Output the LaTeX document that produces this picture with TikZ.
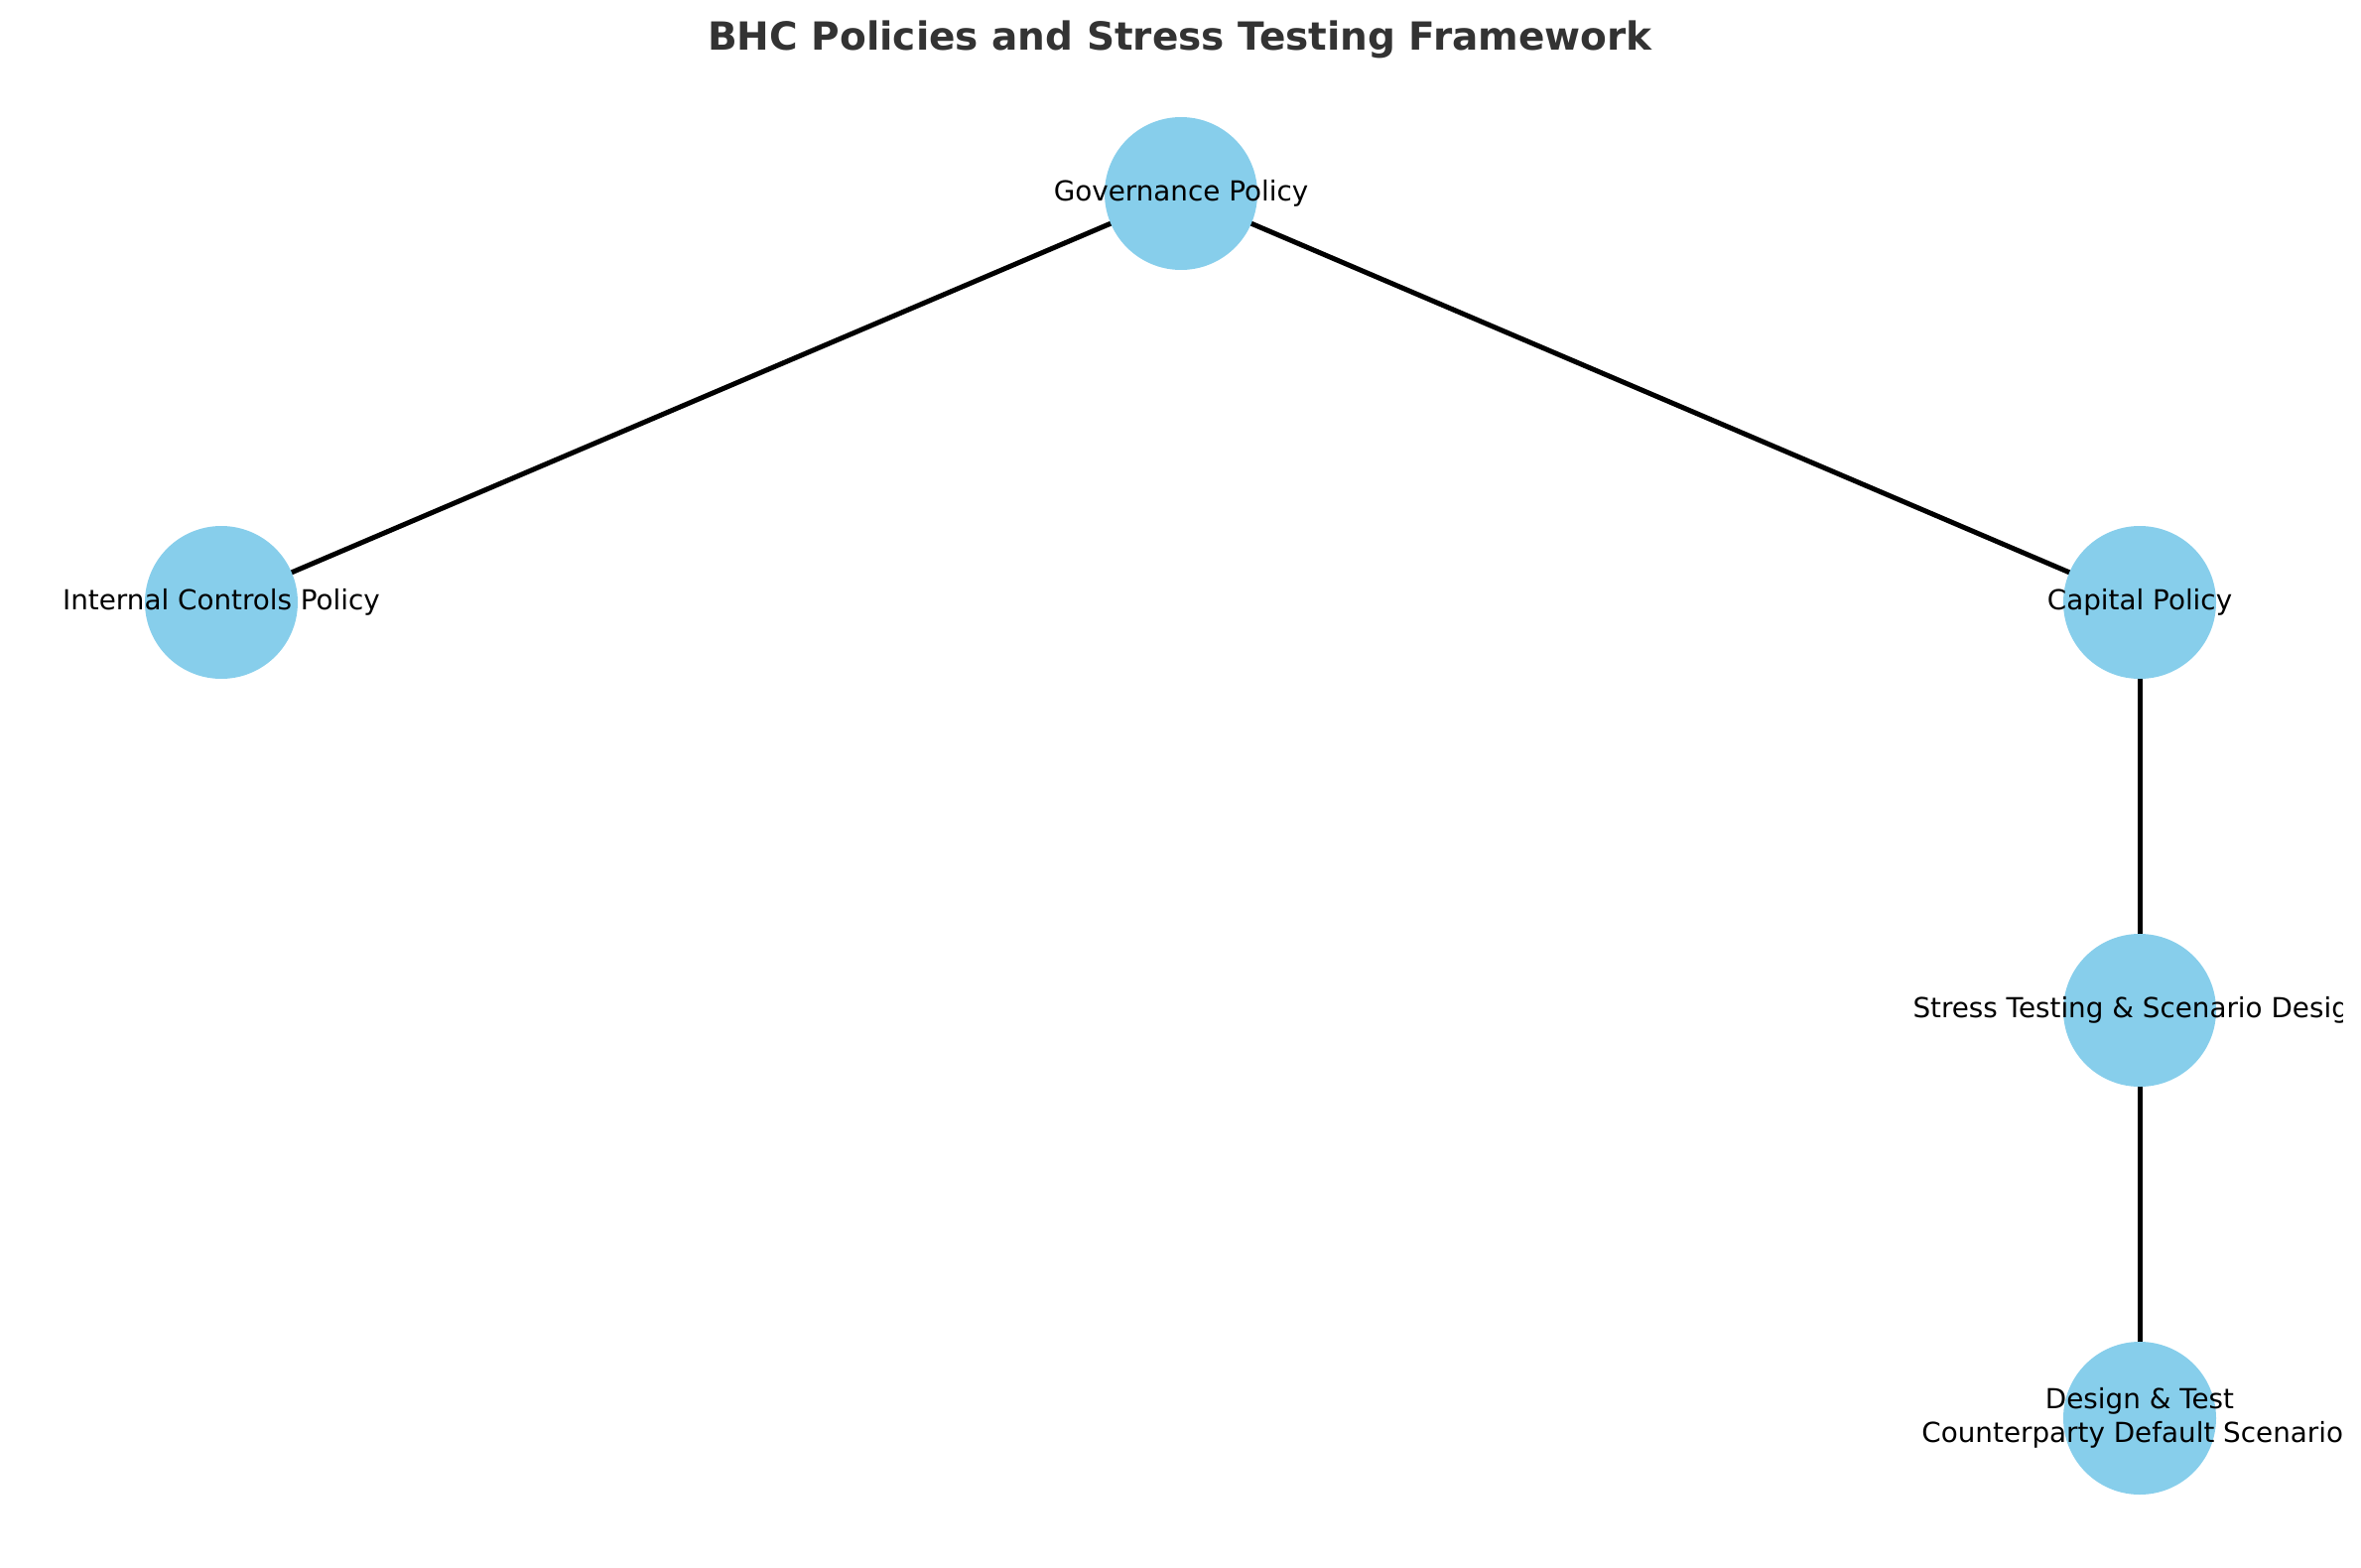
\documentclass[tikz,border=0pt]{standalone}
\usepackage{fontspec}
\setmainfont{DejaVu Sans}
\usetikzlibrary{backgrounds}
\definecolor{skyblue}{HTML}{87CEEB}
\definecolor{titlegray}{HTML}{333333}
\tikzset{
  circ/.style={circle, fill=skyblue, draw=none, minimum size=154pt*0.5, inner sep=0pt},
  lab/.style={font=\fontsize{13.9}{16.7}\selectfont, align=center, inner sep=0pt, text=black},
  edge/.style={line width=2.5pt, draw=black},
  ttl/.style={font=\fontsize{19.5}{23}\selectfont\bfseries, text=titlegray, inner sep=0pt}
}
\begin{document}
\begin{tikzpicture}[x=0.5pt,y=-0.5pt]
\useasboundingbox (0,0) rectangle (2379,1580);
\node[ttl] (title) at (1189,40) {BHC Policies and Stress Testing Framework};
\begin{scope}
\clip (0,0) rectangle (2360,1580);
\node[circ] (gov) at (1190,195) {};
\node[circ] (int) at (223,607) {};
\node[circ] (cap) at (2156,607) {};
\node[circ] (str) at (2156,1018) {};
\node[circ] (des) at (2156,1429) {};
\begin{pgfonlayer}{background}
\draw[edge] (gov.center) -- (int.center);
\draw[edge] (gov.center) -- (cap.center);
\draw[edge] (cap.center) -- (str.center);
\draw[edge] (str.center) -- (des.center);
\end{pgfonlayer}
\node[lab] (gov-t) at (gov) {Governance Policy};
\node[lab] (int-t) at (int) {Internal Controls Policy};
\node[lab] (cap-t) at (cap) {Capital Policy};
\node[lab] (str-t) at (str) {Stress Testing \& Scenario Design};
\node[lab] (des-t) at (des) {Design \& Test\\Counterparty Default Scenarios};
\end{scope}
\end{tikzpicture}
\end{document}
